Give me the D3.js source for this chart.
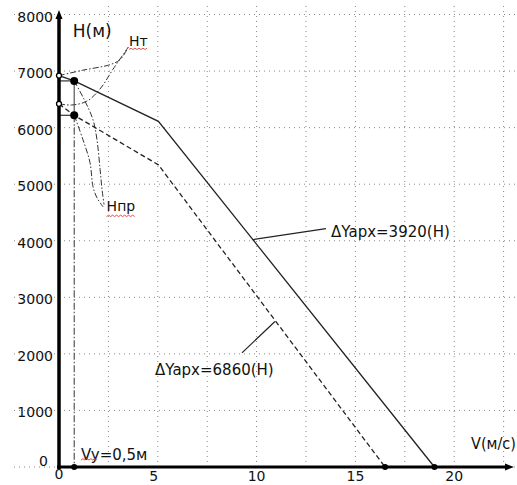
<!DOCTYPE html>
<html>
<head>
<meta charset="utf-8">
<script src="https://cdn.jsdelivr.net/npm/d3@7"></script>
<style>
  body { margin: 0; background: #fff; }
  svg { display: block; font-family: "DejaVu Sans", sans-serif; }
</style>
</head>
<body>
<svg id="chart" width="517" height="485"></svg>
<script>
// values (V in m/s, H in m)
const yTicks = [0, 1000, 2000, 3000, 4000, 5000, 6000, 7000, 8000];
const xTicks = [0, 5, 10, 15, 20];
const xGrid = [2.5, 5, 7.5, 10, 12.5, 15, 17.5, 20, 22.5];

// ΔYapx = 3920 (H), solid
const solidV = [0, 0.77, 5.03, 19.0];
const solidH = [6920, 6826, 6112, 0];
// ΔYapx = 6860 (H), dashed
const dashV = [0, 0.77, 5.03, 16.5];
const dashH = [6420, 6218, 5342, 0];

const vy = 0.77; // Vy = 0,5 m marker

// leader curves (data units)
const htCurve1 = [[0, 6920], [1.2, 7015], [2.6, 7115], [3.1, 7205], [3.5, 7420]];
const htCurve2 = [[0, 6420], [0.64, 6400], [1.4, 6466], [2.07, 6680], [2.73, 7030], [3.5, 7420]];
const nprCurve1 = [[0.77, 6826], [1.27, 6500], [1.72, 6140], [1.92, 5790], [2.08, 5260], [2.18, 4900], [2.28, 4640]];
const nprCurve2 = [[0.77, 6218], [1.21, 5790], [1.57, 5380], [1.72, 4956], [1.92, 4760], [2.23, 4600]];

const svg = d3.select("#chart");
const x = d3.scaleLinear().domain([0, 22.5]).range([59, 503.6]);
const y = d3.scaleLinear().domain([0, 8000]).range([467, 14.5]);

// grid
svg.append("g").selectAll("line")
  .data(yTicks)
  .enter().append("line")
  .attr("x1", 14).attr("x2", 517)
  .attr("y1", d => y(d)).attr("y2", d => y(d))
  .style("stroke", "#888").style("stroke-dasharray", "1,4");

svg.append("g").selectAll("line")
  .data(xGrid)
  .enter().append("line")
  .attr("x1", d => x(d)).attr("x2", d => x(d))
  .attr("y1", 6).attr("y2", 467)
  .style("stroke", "#888").style("stroke-dasharray", "1,4");

// tick labels
svg.append("g").selectAll("text")
  .data(yTicks)
  .enter().append("text")
  .attr("x", d => d === 0 ? 48 : 53)
  .attr("y", d => d === 0 ? y(d) - 1 : y(d) + 7)
  .attr("text-anchor", "end")
  .style("font-size", "14px").style("fill", "#111")
  .text(d => d);

svg.append("g").selectAll("text")
  .data(xTicks)
  .enter().append("text")
  .attr("x", d => d === 5 ? x(d) - 4 : x(d))
  .attr("y", d => d === 0 ? 479 : 481)
  .attr("text-anchor", "middle")
  .style("font-size", "14px").style("fill", "#111")
  .text(d => d);

const line = d3.line().x(d => x(d[0])).y(d => y(d[1]));
const curve = d3.line().x(d => x(d[0])).y(d => y(d[1])).curve(d3.curveCatmullRom);

// leader curves, dash-dot
[htCurve1, htCurve2, nprCurve1, nprCurve2].forEach(c => {
  svg.append("path")
    .attr("d", curve(c))
    .style("fill", "none").style("stroke", "#333").style("stroke-width", 1)
    .style("stroke-dasharray", "6,2,1.5,2");
});

// small frame at Vy
svg.append("line")
  .attr("x1", x(0)).attr("x2", x(vy)).attr("y1", y(solidH[1])).attr("y2", y(solidH[1]))
  .style("stroke", "#333").style("stroke-width", 1.2);
svg.append("line")
  .attr("x1", x(0)).attr("x2", x(vy)).attr("y1", y(dashH[1])).attr("y2", y(dashH[1]))
  .style("stroke", "#333").style("stroke-width", 1.2);
svg.append("line")
  .attr("x1", x(vy)).attr("x2", x(vy)).attr("y1", y(solidH[1])).attr("y2", y(dashH[1]))
  .style("stroke", "#555").style("stroke-width", 1.2);
svg.append("line")
  .attr("x1", x(vy)).attr("x2", x(vy)).attr("y1", y(dashH[1])).attr("y2", y(0))
  .style("stroke", "#444").style("stroke-width", 1.1)
  .style("stroke-dasharray", "7,2,1.5,2");

// main lines
svg.append("path")
  .attr("d", line(solidV.map((v, i) => [v, solidH[i]])))
  .style("fill", "none").style("stroke", "#222").style("stroke-width", 1.3);
svg.append("path")
  .attr("d", line(dashV.map((v, i) => [v, dashH[i]])))
  .style("fill", "none").style("stroke", "#222").style("stroke-width", 1.3)
  .style("stroke-dasharray", "5,3");

// leader lines for ΔYapx labels
svg.append("line")
  .attr("x1", x(9.77)).attr("y1", y(4018)).attr("x2", x(13.51)).attr("y2", y(4213))
  .style("stroke", "#222").style("stroke-width", 1.2);
svg.append("line")
  .attr("x1", x(10.93)).attr("y1", y(2572)).attr("x2", x(9.26)).attr("y2", y(2018))
  .style("stroke", "#222").style("stroke-width", 1.2);

// axes
svg.append("line")
  .attr("x1", x(0)).attr("x2", x(0)).attr("y1", y(0) + 2).attr("y2", 16)
  .style("stroke", "#000").style("stroke-width", 3.5);
svg.append("path")
  .attr("d", `M${x(0) - 3.5},19 L${x(0)},10 L${x(0) + 3.5},19 Z`)
  .style("fill", "#000");
svg.append("line")
  .attr("x1", x(0) - 2).attr("x2", 507).attr("y1", y(0)).attr("y2", y(0))
  .style("stroke", "#000").style("stroke-width", 3);
svg.append("path")
  .attr("d", `M505,${y(0) - 3.5} L514,${y(0)} L505,${y(0) + 3.5} Z`)
  .style("fill", "#000");

// points
svg.append("g").selectAll("circle")
  .data([[0, solidH[0]], [0, dashH[0]]])
  .enter().append("circle")
  .attr("cx", d => x(d[0])).attr("cy", d => y(d[1])).attr("r", 2.5)
  .style("fill", "#fff").style("stroke", "#000").style("stroke-width", 1.3);
svg.append("g").selectAll("circle")
  .data([[vy, solidH[1]], [vy, dashH[1]]])
  .enter().append("circle")
  .attr("cx", d => x(d[0])).attr("cy", d => y(d[1])).attr("r", 4)
  .style("fill", "#000");
svg.append("g").selectAll("circle")
  .data([[vy, 0], [dashV[3], 0], [solidV[3], 0]])
  .enter().append("circle")
  .attr("cx", d => x(d[0])).attr("cy", d => y(d[1])).attr("r", 3)
  .style("fill", "#000");

// labels
function label(txt, v, h, size) {
  return svg.append("text")
    .attr("x", x(v)).attr("y", y(h))
    .style("font-size", size + "px").style("fill", "#111")
    .text(txt);
}
label("H(м)", 0.7, 7610, 17);
label("Нт", 3.54, 7440, 14);
label("Нпр", 2.41, 4530, 14);
label("ΔYapx=3920(H)", 13.77, 4070, 15);
label("ΔYapx=6860(H)", 4.86, 1628, 15);
label("Vy=0,5м", 1.11, 123, 15);
label("V(м/с)", 20.85, 320, 15).attr("textLength", 45).attr("lengthAdjust", "spacingAndGlyphs");

// red spell-check squiggles
function squiggle(x0, x1, yy) {
  let d = `M${x0},${yy}`;
  let up = true;
  for (let px = x0 + 2; px <= x1; px += 2) {
    d += ` L${px},${up ? yy - 1.3 : yy}`;
    up = !up;
  }
  svg.append("path").attr("d", d)
    .style("fill", "none").style("stroke", "#e03a3a").style("stroke-width", 0.9);
}
squiggle(x(3.54), x(3.54) + 18, 49.5);
squiggle(x(2.41), x(2.41) + 28, 216.5);
squiggle(x(1.11), x(1.11) + 16, 460);
</script>
</body>
</html>
